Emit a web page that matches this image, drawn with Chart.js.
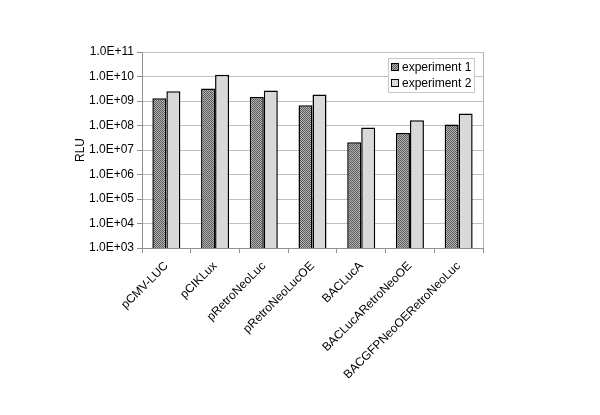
<!DOCTYPE html>
<html>
<head>
<meta charset="utf-8">
<script src="https://cdn.jsdelivr.net/npm/chart.js@4"></script>
<style>
	html, body { margin: 0; padding: 0; background: #fff; }
	canvas { display: block; }
</style>
</head>
<body>
<canvas id="myChart" width="600" height="415"></canvas>
<script>
var categories = ["pCMV-LUC", "pCIKLux", "pRetroNeoLuc", "pRetroNeoLucOE", "BACLucA", "BACLucARetroNeoOE", "BACGFPNeoOERetroNeoLuc"];
var experiment1 = [1.3e9, 3.2e9, 1.45e9, 6.7e8, 2.05e7, 5.0e7, 1.1e8];
var experiment2 = [2.5e9, 1.17e10, 2.7e9, 1.86e9, 8.3e7, 1.64e8, 3.06e8];
var seriesLabels = ["experiment 1", "experiment 2"];
var yTickValues = [1e3, 1e4, 1e5, 1e6, 1e7, 1e8, 1e9, 1e10, 1e11];

var FONT = "'Liberation Sans', Arial, sans-serif";

// hatched fill for experiment 1
function makeHatch() {
	var c = document.createElement("canvas");
	c.width = 2;
	c.height = 2;
	var g = c.getContext("2d");
	g.fillStyle = "#b4b4b4";
	g.fillRect(0, 0, 2, 2);
	g.fillStyle = "#5a5a5a";
	g.fillRect(0, 0, 1, 1);
	g.fillRect(1, 1, 1, 1);
	return g.createPattern(c, "repeat");
}

function fmtExp(v) {
	var e = Math.round(Math.log10(v));
	var s = (e < 0 ? "-" : "+") + (Math.abs(e) < 10 ? "0" : "") + Math.abs(e);
	return "1.0E" + s;
}

var hatch = makeHatch();

// legend box drawn inside the plot, top right
var boxLegend = {
	id: "boxLegend",
	afterDraw: function (chart) {
		var ctx = chart.ctx;
		var x = 388, y = 58, w = 86, h = 34;
		ctx.save();
		ctx.fillStyle = "#fff";
		ctx.fillRect(x, y, w, h);
		ctx.strokeStyle = "#c8c8c8";
		ctx.lineWidth = 1;
		ctx.strokeRect(x + 0.5, y + 0.5, w, h);
		ctx.font = "12px " + FONT;
		ctx.textBaseline = "middle";
		chart.data.datasets.forEach(function (ds, i) {
			var cy = y + 9 + i * 16;
			ctx.fillStyle = ds.backgroundColor;
			ctx.fillRect(x + 3, cy - 3.5, 7, 7);
			ctx.strokeStyle = "#000";
			ctx.strokeRect(x + 3.5, cy - 3.5, 7, 7);
			ctx.fillStyle = "#000";
			ctx.fillText(ds.label, x + 14, cy + 0.5);
		});
		ctx.restore();
	}
};

// right border of plot area
var plotFrame = {
	id: "plotFrame",
	beforeDatasetsDraw: function (chart) {
		var a = chart.chartArea, ctx = chart.ctx;
		ctx.save();
		ctx.strokeStyle = "#b0b0b0";
		ctx.lineWidth = 1;
		ctx.beginPath();
		ctx.moveTo(Math.round(a.right) + 0.5, a.top);
		ctx.lineTo(Math.round(a.right) + 0.5, a.bottom);
		ctx.stroke();
		ctx.restore();
	}
};

var ctx = document.getElementById("myChart");

var data = {
	labels: categories,
	datasets: [{
		label: seriesLabels[0],
		data: experiment1,
		backgroundColor: hatch,
		borderColor: "#000",
		borderWidth: 1.5,
		borderSkipped: "bottom"
	}, {
		label: seriesLabels[1],
		data: experiment2,
		backgroundColor: "#d9d9d9",
		borderColor: "#000",
		borderWidth: 1.5,
		borderSkipped: "bottom"
	}]
};

var options = {
	responsive: false,
	animation: false,
	devicePixelRatio: 1,
	layout: { padding: { left: 73, top: 52, right: 117, bottom: 0 } },
	plugins: {
		legend: { display: false },
		tooltip: { enabled: false }
	},
	datasets: {
		bar: { barPercentage: 1, categoryPercentage: 0.575 }
	},
	scales: {
		x: {
			ticks: {
				color: "#000",
				font: { family: FONT, size: 12 },
				minRotation: 45,
				maxRotation: 45,
				autoSkip: false,
				padding: 6
			},
			grid: {
				offset: true,
				drawOnChartArea: false,
				tickLength: 5,
				color: "#909090"
			},
			border: { color: "#909090" },
			afterFit: function (scale) { scale.height = 167; }
		},
		y: {
			type: "logarithmic",
			min: 1e3,
			max: 1e11,
			afterBuildTicks: function (scale) {
				scale.ticks = yTickValues.map(function (v) { return { value: v }; });
			},
			ticks: {
				color: "#000",
				font: { family: FONT, size: 12 },
				padding: 3,
				callback: function (v) { return fmtExp(v); }
			},
			grid: {
				color: "#c0c0c0",
				tickLength: 5,
				tickColor: "#909090"
			},
			border: { color: "#909090" },
			title: {
				display: true,
				text: "RLU",
				color: "#000",
				font: { family: FONT, size: 12 },
				padding: { top: 0, bottom: 0 }
			},
			afterFit: function (scale) { scale.width = 69; }
		}
	}
};

var myChart = new Chart(ctx, {
	type: "bar",
	data: data,
	options: options,
	plugins: [plotFrame, boxLegend]
});
</script>
</body>
</html>
